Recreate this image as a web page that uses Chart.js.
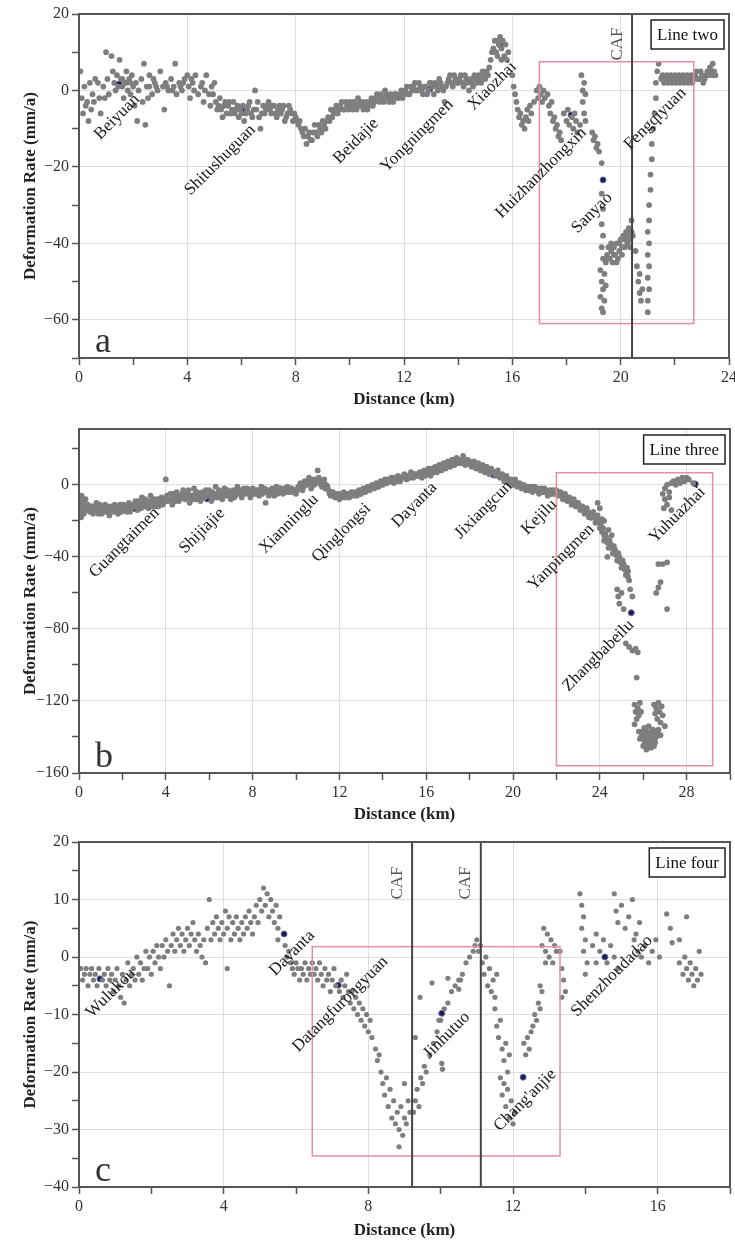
<!DOCTYPE html>
<html><head><meta charset="utf-8">
<script src="https://cdn.jsdelivr.net/npm/chart.js@4"></script>
<style>
html,body{margin:0;padding:0;background:#fff;}
.p{position:absolute;left:0;width:735px;}
canvas{display:block;}
</style></head><body>
<div class="p" style="top:0"><canvas id="ca" width="735" height="412"></canvas></div>
<div class="p" style="top:412px"><canvas id="cb" width="735" height="415"></canvas></div>
<div class="p" style="top:827px"><canvas id="cc" width="735" height="416"></canvas></div>
<script>
// ---------------- DATA ----------------
// Panel a: Line two  [distance km, deformation rate mm/a]
const aPoints = [
[0.05,5],[0.1,-2],[0.15,-6],[0.2,1],[0.25,-4],[0.3,-3],[0.35,-8],[0.4,2],[0.45,-5],[0.5,-1],[0.55,-3],[0.6,3],[0.7,2],[0.75,-2],[0.8,-6],[0.9,1],[0.95,-2],
[1.0,10],[1.05,3],[1.1,-1],[1.2,9],[1.25,5],[1.3,2],[1.35,0],[1.4,4],[1.5,8],[1.55,3],[1.6,1],[1.65,-2],[1.7,2],[1.75,5],[1.8,0],[1.85,3],[1.9,-1],[1.95,4],[2.0,1],[2.05,-4],[2.1,2],[2.15,-8],[2.2,0],[2.3,3],[2.35,-3],[2.4,7],[2.45,-9],[2.5,1],[2.55,-2],
[2.6,4],[2.7,-1],[2.8,2],[2.9,0],[3.0,5],[3.1,1],[3.15,-5],[3.2,2],[3.3,0],[3.4,3],[3.5,1],[3.55,7],[3.6,-1],[3.7,2],[3.8,0],[3.9,3],[4.0,4],[4.05,1],[4.1,-2],[4.2,2],[4.3,4],[4.4,-1],[4.5,1],[4.6,-3],[4.7,4],[4.8,-1],[4.85,-4],[4.9,1],[5.0,2],[5.05,-3],[5.1,-5],[5.2,-2],[5.3,-7],[5.4,-3],[5.5,-4],[5.6,-6],[5.7,-3],[5.8,-5],
[5.9,-7],[6.0,-6],[6.05,-4],[6.1,-8],[6.2,-5],[6.3,-3],[6.4,-7],[6.5,0],[6.55,-5],[6.6,-3],[6.7,-10],[6.75,-6],[6.8,-4],[6.9,-5],[7.0,-3],[7.1,-6],[7.2,-4],[7.3,-7],[7.4,-4],[7.5,-5],[7.6,-8],[7.7,-6],[7.8,-5],[7.9,-8],
[8.0,-7],[8.1,-9],[8.2,-10],[8.3,-12],[8.4,-14],[8.5,-11],[8.6,-13],[8.7,-9],[8.8,-12],[8.9,-10],[9.0,-8],[9.1,-10],[9.2,-7],[9.3,-5],[9.4,-6],[9.5,-4],[9.6,-5],[9.7,-3],[9.8,-5],[9.9,-4],
[10.0,-3],[10.1,-5],[10.2,-4],[10.3,-2],[10.4,-4],[10.5,-5],[10.6,-3],[10.7,-4],[10.8,-2],[10.9,-3],[11.0,-1],[11.1,-3],[11.2,-2],[11.3,0],[11.4,-2],[11.5,-1],[11.6,-3],[11.7,-1],[11.8,-2],[11.9,0],
[12.0,-1],[12.1,1],[12.2,-1],[12.3,0],[12.4,2],[12.5,0],[12.6,1],[12.7,-1],[12.8,1],[12.9,0],[13.0,2],[13.1,-1],[13.2,1],[13.3,3],[13.4,1],[13.5,-3],[13.6,2],[13.7,4],[13.8,1],[13.9,3],[14.0,2],[14.1,4],[14.2,1],[14.3,3],[14.4,0],[14.5,2],[14.6,4],[14.7,2],[14.8,3],[14.9,5],[15.0,3],[15.1,4],
[15.2,8],[15.3,11],[15.35,13],[15.4,10],[15.5,12],[15.55,14],[15.6,11],[15.7,9],[15.75,12],[15.8,8],
[16.0,4],[16.05,1],[16.1,-1],[16.15,-3],[16.2,-5],[16.25,-7],[16.3,-6],[16.35,-9],[16.4,-8],[16.45,-10],[16.5,-7],[16.55,-5],[16.6,-8],[16.65,-4],[16.7,-6],[16.8,-3],
[16.9,0],[16.95,-2],[17.0,1],[17.05,-1],[17.1,-3],[17.15,0],[17.2,-2],[17.3,-1],[17.35,-4],[17.4,-6],[17.45,-3],[17.5,-8],[17.55,-7],[17.6,-10],[17.65,-9],[17.7,-12],[17.75,-11],[17.8,-13],
[17.9,-6],[18.0,-8],[18.05,-5],[18.1,-9],[18.2,-7],[18.25,-10],[18.3,-6],[18.35,-8],[18.4,-11],[18.5,-9],
[18.55,4],[18.6,0],[18.6,-3],[18.65,2],[18.65,-6],[18.7,-1],[18.7,-8],
[18.95,-11],[19.0,-13],[19.05,-12],[19.1,-15],[19.15,-14],[19.2,-16],
[19.3,-19],[19.3,-27],[19.35,-31],[19.3,-35],[19.35,-38],[19.3,-41],[19.35,-44],[19.25,-47],[19.4,-48],[19.3,-50],[19.35,-52],[19.25,-54],[19.4,-55],[19.3,-57],[19.35,-58],[19.45,-51],[19.45,-45],
[19.5,-43],[19.55,-41],[19.6,-44],[19.65,-42],[19.7,-45],[19.75,-41],[19.8,-43],[19.85,-40],[19.9,-44],[19.95,-42],[20.0,-39],[20.05,-43],[20.1,-38],[20.15,-41],[20.2,-37],[20.25,-40],[20.3,-36],[20.35,-39],[20.4,-34],[20.45,-38],
[20.55,-42],[20.6,-46],[20.65,-50],[20.7,-53],[20.75,-55],[20.7,-48],[20.8,-52],
[21.0,-58],[21.0,-55],[21.05,-52],[21.0,-49],[21.05,-46],[21.0,-43],[21.05,-40],[21.0,-37],[21.05,-34],[21.05,-30],[21.1,-26],[21.1,-22],[21.15,-18],[21.15,-14],[21.2,-10],
[21.25,-6],[21.3,-2],[21.3,2],[21.35,5],[21.4,7],
[21.5,3],[21.6,2],[21.7,4],[21.8,3],[21.9,2],[22.0,4],[22.1,3],[22.2,2],[22.3,4],[22.4,3],[22.5,2],[22.6,4],[22.7,3],[22.8,5],[22.9,3],[23.0,4],[23.1,3],[23.2,5],[23.3,6],[23.4,7],[23.45,5],[23.5,4]
];
// more points inside the dense band of Line two
const aBandPoints = [
[1.45,1],[1.6,3],[1.75,2],[1.9,2],[2.6,1],[2.75,3],[2.85,1],[3.25,1],[3.45,0],[3.75,1],[3.85,2],[4.15,3],[4.25,0],[4.55,2],[4.65,0],[4.95,-1],
[5.15,-4],[5.25,-5],[5.35,-4],[5.45,-6],[5.55,-3],[5.65,-5],[5.75,-6],[5.85,-4],[5.95,-5],[6.15,-6],[6.25,-4],[6.35,-6],[6.45,-5],[6.65,-7],[6.85,-6],[6.95,-4],[7.05,-5],[7.15,-4],[7.25,-6],[7.35,-5],[7.45,-6],[7.55,-4],[7.65,-7],[7.75,-4],[7.85,-6],[7.95,-6],
[8.05,-8],[8.15,-8],[8.25,-11],[8.35,-10],[8.45,-12],[8.55,-13],[8.65,-11],[8.75,-11],[8.85,-9],[8.95,-11],[9.05,-9],[9.15,-8],[9.25,-8],[9.35,-7],[9.45,-5],[9.55,-6],[9.65,-4],[9.75,-5],[9.85,-3],[9.95,-5],
[10.05,-4],[10.15,-3],[10.25,-5],[10.35,-3],[10.45,-3],[10.55,-4],[10.65,-5],[10.75,-3],[10.85,-4],[10.95,-2],[11.05,-2],[11.15,-1],[11.25,-3],[11.35,-1],[11.45,-3],[11.55,-2],[11.65,-1],[11.75,-2],[11.85,-1],[11.95,-2],
[12.05,0],[12.15,-1],[12.25,1],[12.35,1],[12.45,0],[12.55,2],[12.65,0],[12.75,1],[12.85,-1],[12.95,2],[13.05,1],[13.15,2],[13.25,0],[13.35,2],[13.45,0],[13.55,1],[13.65,3],[13.75,2],[13.85,4],[13.95,2],[14.05,3],[14.15,2],[14.25,4],[14.35,2],[14.45,3],[14.55,1],[14.65,3],[14.75,4],[14.85,2],[14.95,4],[15.05,5],[15.15,6],
[15.25,10],[15.45,13],[15.65,13],[15.45,9],[15.6,8],[15.85,10],
[19.55,-44],[19.65,-40],[19.75,-43],[19.85,-45],[19.95,-40],[20.05,-41],[20.15,-39],[20.25,-38],[20.35,-41],[20.4,-37],
[21.55,4],[21.65,3],[21.75,2],[21.85,4],[21.95,3],[22.05,2],[22.15,4],[22.25,3],[22.35,2],[22.45,4],[22.55,3],[22.65,2],[22.75,4],[22.85,3],[22.95,5],[23.05,2],[23.15,4],[23.25,4],[23.35,5],[23.4,4]
];
const aStations = ['Beiyuan','Shitushuguan','Beidajie','Yongningmen','Xiaozhai','Huizhanzhongxin','Sanyao','Fengqiyuan'];
const aStationX = [1.48,6.06,10.56,12.96,15.55,18.17,19.35,21.53];
const aStationY = [1.7,-5.1,-4.6,0.4,11.9,-6.4,-23.4,3.3];
const aXTicks = [0,2,4,6,8,10,12,14,16,18,20,22,24];
const aXLabels = [0,4,8,12,16,20,24];
const aYTicks = [-70,-60,-50,-40,-30,-20,-10,0,10,20];
const aYLabels = [-60,-40,-20,0,20];

// Panel b: Line three
const bPoints = [
[0.02,-8],[0.05,-15],[0.08,-11],[0.1,-18],[0.12,-6],[0.15,-13],[0.2,-9],[0.22,-16],[0.25,-12],[0.3,-8],[0.35,-14],
[0.4,-11],[0.5,-15],[0.6,-12],[0.7,-14],[0.8,-10],[0.9,-16],[1.0,-13],[1.1,-15],[1.2,-11],[1.3,-14],[1.4,-17],[1.5,-12],[1.6,-15],[1.7,-13],[1.8,-16],[1.9,-11],[2.0,-14],[2.1,-12],[2.2,-15],[2.3,-10],[2.4,-13],
[2.6,-9],[2.7,-14],[2.8,-11],[2.9,-7],[3.0,-12],[3.1,-9],[3.2,-13],[3.3,-6],[3.4,-10],[3.5,-12],[3.6,-8],[3.7,-11],[3.8,-7],[3.9,-10],[4.0,3],[4.05,-6],[4.1,-9],[4.2,-5],
[4.3,-11],[4.4,-7],[4.5,-4],[4.6,-9],[4.7,-6],[4.8,-3],[4.9,-8],[5.0,-5],[5.1,-10],[5.2,-6],[5.3,-2],[5.4,-8],[5.5,-5],[5.6,-9],[5.7,-4],[5.8,-7],[6.0,-3],[6.1,-9],[6.2,-5],[6.3,-1],[6.4,-7],[6.5,-4],[6.6,-8],[6.7,-2],[6.8,-6],[6.9,-4],[7.0,-8],[7.1,-3],[7.2,-6],[7.3,-1],[7.4,-5],[7.5,-7],[7.6,-2],[7.7,-5],[7.8,-4],[7.9,-7],[8.0,-2],[8.1,-5],[8.2,-3],[8.3,-6],[8.4,-1],[8.5,-4],[8.6,-10],[8.7,-3],[8.8,-5],[8.9,-2],[9.0,-6],[9.1,-1],[9.2,-4],[9.3,-2],[9.4,-5],[9.5,-3],[9.6,-1],[9.7,-4],[9.8,-2],[10.0,-5],
[10.1,-1],[10.2,1],[10.3,-3],[10.4,2],[10.5,0],[10.6,4],[10.7,-2],[10.8,3],[10.9,1],[11.0,8],[11.1,2],[11.2,-1],[11.3,3],[11.4,0],
[11.5,-3],[11.6,-6],[11.7,-4],[11.8,-7],[11.9,-5],[12.0,-8],[12.1,-6],[12.2,-4],[12.3,-7],[12.4,-5],[12.5,-6],
[12.7,-4],[12.8,-6],[12.9,-3],[13.0,-5],[13.1,-2],[13.2,-4],[13.3,-1],[13.4,-3],[13.5,0],[13.6,-2],[13.7,1],[13.8,-1],[13.9,2],[14.0,0],[14.1,3],[14.2,1],[14.3,2],[14.4,4],[14.5,1],[14.6,3],[14.7,5],[14.8,2],[14.9,4],[15.0,6],[15.1,3],[15.2,5],[15.3,7],[15.4,4],[15.5,6],
[15.7,7],[15.8,4],[15.9,8],[16.0,6],[16.1,9],[16.2,5],[16.3,8],[16.4,10],[16.5,7],[16.6,11],[16.7,8],[16.8,12],[16.9,9],[17.0,13],[17.1,10],[17.2,14],[17.3,11],[17.4,15],[17.5,12],[17.6,14],[17.7,16],[17.8,11],[17.9,14],[18.0,13],[18.1,10],[18.2,13],[18.3,9],[18.4,12],[18.5,8],[18.6,11],[18.7,7],[18.8,10],[18.9,6],[19.0,9],
[19.2,5],[19.3,8],[19.4,4],[19.5,6],[19.6,2],[19.7,5],[19.8,1],[19.9,3],[20.0,0],[20.1,3],[20.2,-1],[20.3,1],[20.4,-2],[20.5,0],[20.6,-3],[20.7,-1],[20.8,-2],[20.9,-4],[21.0,-1],[21.1,-3],[21.2,-5],[21.3,-2],[21.4,-4],[21.5,-3],[21.6,-6],[21.7,-3],[21.8,-5],
[22.0,-3],[22.1,-6],[22.2,-4],[22.3,-8],[22.4,-5],[22.5,-9],[22.6,-7],[22.7,-11],[22.8,-8],[22.9,-12],[23.0,-10],[23.1,-14],[23.2,-12],[23.3,-16],[23.4,-13],[23.5,-18],[23.7,-15],[23.8,-21],[23.9,-17],[24.0,-24],
[23.9,-10],[24.0,-13],[24.1,-19],[24.2,-28],
[24.1,-26],[24.2,-31],[24.3,-29],[24.4,-35],[24.5,-33],[24.6,-38],[24.7,-36],[24.8,-42],[24.9,-40],[25.0,-46],[25.1,-44],[25.2,-50],[25.3,-48],[25.35,-53],[24.35,-40],[24.55,-28],
[24.8,-58],[24.85,-62],[24.9,-66],[25.0,-60],[25.1,-69],[25.4,-58],[25.5,-62],
[25.2,-88],[25.35,-90],[25.5,-92],[25.65,-91],[25.75,-93],
[25.7,-107],
[25.6,-122],[25.65,-126],[25.7,-130],[25.75,-124],[25.8,-128],[25.6,-133],[25.85,-121],[25.9,-126],
[26.5,-122],[26.55,-127],[26.6,-124],[26.65,-130],[26.7,-121],[26.75,-126],[26.8,-132],[26.85,-123],[26.9,-128],[27.0,-134],
[25.8,-137],[25.9,-140],[26.0,-138],[26.05,-142],[26.1,-136],[26.15,-140],[26.2,-144],[26.25,-138],[26.3,-141],[26.35,-137],[26.4,-143],[26.45,-139],[26.5,-141],[26.55,-137],[26.6,-140],[26.7,-136],[26.8,-139],[26.0,-145],[26.15,-147],[26.35,-146],[26.05,-135],[26.25,-134],
[26.9,-5],[27.0,-2],[27.1,0],[27.2,-4],[27.3,1],[27.4,2],[27.5,0],[27.6,3],[27.7,1],[27.8,4],[27.9,2],[28.0,4],[28.1,3],[27.0,-8],[27.1,-11],[27.2,-7],[26.95,-13],[27.3,-14],[28.3,1],
[26.7,-44],[26.9,-44],[27.1,-43],
[26.6,-60],[26.7,-57],[26.8,-54],
[27.1,-69]
];
// more points inside the dense band of Line three
const bBandPoints = [
[0.45,-13],[0.55,-12],[0.65,-16],[0.75,-12],[0.85,-13],[0.95,-11],[1.05,-16],[1.15,-13],[1.25,-15],[1.35,-12],[1.45,-14],[1.55,-13],[1.65,-11],[1.75,-14],[1.85,-13],[1.95,-15],[2.05,-11],[2.15,-14],[2.25,-12],[2.35,-15],[2.45,-11],
[2.55,-12],[2.65,-11],[2.75,-9],[2.85,-13],[2.95,-10],[3.05,-8],[3.15,-11],[3.25,-9],[3.35,-12],[3.45,-8],[3.55,-10],[3.65,-12],[3.75,-9],[3.85,-11],[3.95,-8],
[4.25,-8],[4.35,-5],[4.45,-9],[4.55,-6],[4.65,-8],[4.75,-5],[4.85,-6],[4.95,-7],[5.05,-3],[5.15,-7],[5.25,-8],[5.35,-5],[5.45,-4],[5.55,-6],[5.65,-7],[5.75,-6],[5.85,-3],[5.95,-6],[6.05,-6],[6.15,-4],[6.25,-7],[6.35,-5],[6.45,-3],[6.55,-6],[6.65,-5],[6.75,-5],[6.85,-3],[6.95,-6],[7.05,-5],[7.15,-7],[7.25,-3],[7.35,-4],[7.45,-3],[7.55,-5],[7.65,-4],[7.75,-2],[7.85,-5],[7.95,-4],[8.05,-5],[8.15,-3],[8.25,-5],[8.35,-3],[8.45,-5],[8.55,-2],[8.65,-4],[8.75,-6],[8.85,-4],[8.95,-3],[9.05,-3],[9.15,-5],[9.25,-2],[9.35,-4],[9.45,-2],[9.55,-4],[9.65,-3],[9.75,-2],[9.85,-4],[9.95,-3],
[10.05,-3],[10.15,-2],[10.25,0],[10.35,-1],[10.45,1],[10.55,2],[10.65,1],[10.75,2],[10.85,0],[10.95,3],[11.05,4],[11.15,0],[11.25,1],[11.35,-2],[11.45,-1],
[11.55,-5],[11.65,-4],[11.75,-6],[11.85,-5],[11.95,-6],[12.05,-5],[12.15,-7],[12.25,-6],[12.35,-5],[12.45,-7],[12.55,-4],
[12.65,-6],[12.75,-5],[12.85,-4],[12.95,-5],[13.05,-3],[13.15,-4],[13.25,-3],[13.35,-2],[13.45,-1],[13.55,-1],[13.65,0],[13.75,-1],[13.85,0],[13.95,1],[14.05,2],[14.15,1],[14.25,3],[14.35,2],[14.45,2],[14.55,4],[14.65,2],[14.75,3],[14.85,4],[14.95,5],[15.05,4],[15.15,5],[15.25,4],[15.35,5],[15.45,6],[15.55,5],[15.65,5],
[15.75,6],[15.85,6],[15.95,5],[16.05,8],[16.15,7],[16.25,9],[16.35,7],[16.45,8],[16.55,9],[16.65,9],[16.75,11],[16.85,10],[16.95,11],[17.05,11],[17.15,12],[17.25,12],[17.35,13],[17.45,13],[17.55,13],[17.65,12],[17.75,13],[17.85,13],[17.95,12],[18.05,11],[18.15,12],[18.25,11],[18.35,10],[18.45,10],[18.55,10],[18.65,9],[18.75,9],[18.85,8],[18.95,8],[19.05,7],[19.15,7],
[19.25,6],[19.35,5],[19.45,5],[19.55,4],[19.65,3],[19.75,3],[19.85,2],[19.95,1],[20.05,2],[20.15,1],[20.25,0],[20.35,0],[20.45,-1],[20.55,-1],[20.65,-2],[20.75,-3],[20.85,-1],[20.95,-2],[21.05,-3],[21.15,-2],[21.25,-3],[21.35,-4],[21.45,-2],[21.55,-4],[21.65,-4],[21.75,-5],[21.85,-3],[21.95,-5],
[22.05,-5],[22.15,-4],[22.25,-6],[22.35,-6],[22.45,-7],[22.55,-7],[22.65,-9],[22.75,-9],[22.85,-10],[22.95,-10],[23.05,-12],[23.15,-12],[23.25,-13],[23.35,-14],[23.45,-15],[23.55,-16],[23.65,-18],[23.75,-18],[23.85,-19],[23.95,-21],
[24.05,-22],[24.15,-24],[24.25,-27],[24.35,-32],[24.45,-31],[24.55,-35],[24.65,-34],[24.75,-39],[24.85,-38],[24.95,-43],[25.05,-42],[25.15,-47],[25.25,-46],[25.3,-51],[24.2,-20],[24.4,-25],
[25.85,-141],[25.95,-137],[26.05,-139],[26.15,-142],[26.25,-140],[26.35,-139],[26.45,-136],[26.55,-143],[26.65,-138],[26.1,-144],[26.3,-144],[26.5,-145]
];
const bStations = ['Guangtaimen','Shijiajie','Xianninglu','Qinglongsi','Dayanta','Jixiangcun','Kejilu','Yanpingmen','Zhangbabeilu','Yuhuazhai'];
const bStationX = [2.6,5.9,9.9,12.6,15.6,19.1,21.9,23.6,25.45,28.4];
const bStationY = [-13.3,-7.8,-3.9,-5,5.5,5.5,-4.6,-18,-71,0.5];
const bXTicks = [0,2,4,6,8,10,12,14,16,18,20,22,24,26,28,30];
const bXLabels = [0,4,8,12,16,20,24,28];
const bYTicks = [-160,-140,-120,-100,-80,-60,-40,-20,0,20];
const bYLabels = [-160,-120,-80,-40,0];

// Panel c: Line four
const cPoints = [
[0.05,-2],[0.1,-4],[0.15,-3],[0.2,-2],[0.25,-5],[0.3,-3],[0.35,-2],[0.4,-4],[0.45,-3],[0.5,-5],[0.55,-2],[0.65,-4],[0.7,-3],[0.75,-5],[0.8,-2],[0.85,-4],[0.9,-3],[0.95,-6],
[1.0,-4],[1.05,-2],[1.1,-5],[1.15,-7],[1.2,-3],[1.25,-8],[1.3,-4],[1.35,-1],[1.4,-5],[1.45,-3],[1.5,-2],[1.55,-4],[1.6,0],[1.65,-3],[1.7,-1],[1.75,-4],[1.8,-2],[1.85,1],[1.9,-2],[1.95,0],[2.0,-3],[2.05,1],[2.1,-1],[2.15,2],[2.2,0],[2.25,-2],[2.3,2],[2.35,0],[2.4,3],[2.45,1],[2.5,-5],[2.55,2],[2.6,4],[2.65,1],[2.7,3],[2.75,5],[2.8,2],[2.85,4],[2.9,1],[2.95,3],
[3.0,5],[3.05,2],[3.1,4],[3.15,6],[3.2,3],[3.25,1],[3.3,4],[3.35,2],[3.4,0],[3.45,3],[3.5,-1],[3.55,5],[3.6,10],[3.65,3],[3.7,6],[3.75,4],[3.8,7],[3.85,5],[3.9,3],[3.95,6],
[4.0,4],[4.05,8],[4.1,-2],[4.1,5],[4.15,7],[4.2,3],[4.25,6],[4.3,4],[4.35,7],[4.4,5],[4.45,3],[4.5,6],[4.55,4],[4.6,7],[4.65,5],[4.7,8],[4.75,6],[4.8,4],[4.85,7],[4.9,9],[4.95,6],
[5.0,10],[5.05,8],[5.1,12],[5.15,9],[5.2,11],[5.25,7],[5.3,10],[5.35,8],[5.4,6],[5.45,9],[5.5,5],[5.55,7],[5.5,3],
[5.7,2],[5.75,0],[5.8,1],[5.85,-1],[5.9,-2],[5.95,-3],[6.0,-1],[6.05,-2],[6.1,-4],[6.15,-2],[6.2,-3],[6.25,-1],[6.3,-4],[6.35,-2],[6.4,-3],[6.45,-1],[6.5,-3],
[6.55,-2],[6.6,-4],[6.65,-1],[6.7,-3],[6.75,-5],[6.8,-2],[6.85,-4],[6.9,-3],[6.95,-6],[7.0,-4],[7.05,-2],[7.1,-5],[7.2,-6],[7.25,-4],[7.3,-7],[7.35,-5],[7.4,-3],[7.45,-6],[7.5,-8],
[7.55,-6],[7.6,-9],[7.65,-7],[7.7,-10],[7.75,-8],[7.8,-11],[7.85,-9],[7.9,-12],[7.95,-10],[8.0,-13],[8.05,-11],[8.1,-14],
[8.2,-16],[8.25,-18],[8.3,-17],[8.35,-20],
[8.4,-22],[8.45,-24],[8.5,-21],[8.55,-26],[8.6,-23],[8.65,-28],[8.7,-25],[8.75,-29],[8.8,-27],[8.85,-30],[8.9,-26],[8.95,-31],[9.0,-28],[9.05,-29],[9.1,-25],[9.15,-27],[8.85,-33],[9.0,-22],
[9.25,-27],[9.3,-25],[9.35,-23],[9.4,-26],[9.45,-21],[9.5,-22],[9.55,-19],[9.6,-20],[9.7,-17],[9.8,-15],[9.9,-13],[10.0,-11],[10.1,-9],[10.2,-8],[10.3,-6],[10.4,-5],[10.5,-4],[10.6,-3],[10.7,-1],[10.8,0],[10.9,1],[10.95,2],[11.0,3],[11.05,1],[11.1,2],
[9.43,-7],[9.76,-4.5],[10.2,-3.7],[10.5,-5.6],[10.03,-18.5],[10.05,-19.5],[9.95,-11],[10.55,-4],[9.3,-14],
[11.15,-1],[11.2,-3],[11.25,0],[11.3,-5],[11.35,-2],[11.4,-6],[11.45,-4],[11.5,-7],[11.55,-3],
[11.5,-9],[11.55,-12],[11.6,-14],[11.65,-11],[11.7,-16],[11.75,-18],[11.8,-15],[11.85,-20],[11.9,-17],
[11.65,-21],[11.7,-24],[11.75,-22],[11.8,-26],[11.85,-23],[11.9,-28],[11.95,-25],[12.0,-29],[12.05,-27],
[12.3,-15],[12.35,-17],[12.4,-14],[12.45,-16],[12.5,-13],
[12.55,-12],[12.6,-10],[12.65,-11],[12.7,-8],[12.75,-9],[12.8,-6],[12.75,-5],
[12.8,2],[12.85,5],[12.9,1],[12.95,4],[13.0,0],[13.05,3],[13.1,-1],[13.15,2],[13.2,1],[12.9,-1],
[13.3,1],[13.35,-2],[13.4,-4],[13.45,-6],[13.35,-7],
[13.85,11],[13.9,9],[13.95,7],[13.9,5],[14.0,3],[13.95,1],[14.05,-1],[14.0,-3],
[14.2,2],[14.3,4],[14.4,1],[14.5,3],[14.6,-1],[14.7,2],[14.8,0],[14.9,-2],[14.3,-1],
[14.8,11],[14.85,8],[14.9,6],[15.0,9],[15.1,5],[15.2,7],[15.3,10],[15.4,4],[15.5,6],
[15.35,3],[15.45,1],[15.55,0],[15.65,2],[15.75,-1],[15.85,1],[15.95,3],[16.05,0],
[16.25,7.5],[16.35,5],[16.4,2.5],[16.6,3],[16.8,7],
[16.6,-1],[16.7,-3],[16.75,0],[16.8,-2],[16.85,-4],[16.9,-1],[16.95,-3],[17.0,-5],[17.05,-2],[17.1,-4],[17.15,1],[17.2,-3]
];
const cStations = ['Wulukou','Dayanta','Datangfurongyuan','Jinhutuo',"Chang'anjie",'Shenzhoudadao'];
const cStationX = [0.58,5.67,7.17,10.03,12.28,14.54];
const cStationY = [-3.8,4.0,-4.9,-9.8,-20.9,0];
const cXTicks = [0,2,4,6,8,10,12,14,16,18];
const cXLabels = [0,4,8,12,16];
const cYTicks = [-40,-35,-30,-25,-20,-15,-10,-5,0,5,10,15,20];
const cYLabels = [-40,-30,-20,-10,0,10,20];

// ---------------- ANNOTATION LAYOUT (not data) ----------------
const annA = {letter:'a', tag:'Line two', box:[17,22.7,-61,7.5], caf:[20.42], cafDy:30,
  labelOff:[[-2,33],[-23,50],[-9,33],[-13,47],[-8,41],[-30,58],[-11,33],[-7,41]]};
const annB = {letter:'b', tag:'Line three', box:[22,29.2,-156,6.7], caf:[], cafDy:0,
  labelOff:[[-11,34],[-5,32],[-5,32],[-11,39],[-3,30],[-10,35],[-15,24],[-30,40],[-33,43],[-18,31]]};
const annC = {letter:'c', tag:'Line four', box:[6.45,13.3,-34.6,1.8], caf:[9.21,11.11], cafDy:41,
  labelOff:[[11,14],[8,19],[2,19],[5,22],[2,23],[7,19]]};

const SERIF = '"Liberation Serif","Times New Roman",serif';
const fmt = v => (v < 0 ? '\u2212' + Math.abs(v) : String(v));

const annotPlugin = {
  id: 'annot',
  afterDatasetsDraw(chart) {
    const ann = chart.options.plugins.annot;
    const {ctx, chartArea: ca, scales: {x, y}} = chart;
    ctx.save();
    const [x0, x1, y0, y1] = ann.box;
    ctx.strokeStyle = '#e58fa0'; ctx.lineWidth = 1.5;
    ctx.strokeRect(x.getPixelForValue(x0), y.getPixelForValue(y1),
      x.getPixelForValue(x1) - x.getPixelForValue(x0), y.getPixelForValue(y0) - y.getPixelForValue(y1));
    ann.caf.forEach(v => {
      const px = x.getPixelForValue(v);
      ctx.strokeStyle = '#444'; ctx.lineWidth = 2;
      ctx.beginPath(); ctx.moveTo(px, ca.top); ctx.lineTo(px, ca.bottom); ctx.stroke();
      ctx.save();
      ctx.translate(px - 15, ca.top + ann.cafDy);
      ctx.rotate(-Math.PI / 2);
      ctx.font = '17px ' + SERIF; ctx.fillStyle = '#555';
      ctx.textAlign = 'center'; ctx.textBaseline = 'middle';
      ctx.fillText('CAF', 0, 0);
      ctx.restore();
    });
    const st = chart.data.datasets[1];
    st.data.forEach((p, i) => {
      const px = x.getPixelForValue(p.x) + ann.labelOff[i][0];
      const py = y.getPixelForValue(p.y) + ann.labelOff[i][1];
      ctx.save();
      ctx.translate(px, py); ctx.rotate(-Math.PI / 4);
      ctx.font = '17px ' + SERIF; ctx.fillStyle = '#1a1a1a';
      ctx.textAlign = 'center'; ctx.textBaseline = 'middle';
      ctx.fillText(st.names[i], 0, 0);
      ctx.restore();
    });
    ctx.strokeStyle = '#555'; ctx.lineWidth = 2;
    ctx.strokeRect(ca.left, ca.top, ca.right - ca.left, ca.bottom - ca.top);
    ctx.font = '17px ' + SERIF;
    const w = ctx.measureText(ann.tag).width + 12;
    const bx = ca.right - 5 - w, by = ca.top + 6, bh = 29;
    ctx.fillStyle = '#fff'; ctx.fillRect(bx, by, w, bh);
    ctx.strokeStyle = '#222'; ctx.lineWidth = 1.5; ctx.strokeRect(bx, by, w, bh);
    ctx.fillStyle = '#111'; ctx.textAlign = 'center'; ctx.textBaseline = 'middle';
    ctx.fillText(ann.tag, bx + w / 2, by + bh / 2 + 1);
    ctx.font = '36px ' + SERIF; ctx.fillStyle = '#333';
    ctx.textAlign = 'left'; ctx.textBaseline = 'alphabetic';
    ctx.fillText(ann.letter, ca.left + 16, ca.bottom - 6);
    ctx.restore();
  }
};

function makePanel(id, pts, names, sx, sy, xT, xL, yT, yL, xr, yr, pad, xH, ann, radius) {
  const tickOpts = (labels) => ({
    autoSkip: false, maxRotation: 0, minRotation: 0, padding: 3,
    color: '#333', font: {family: SERIF, size: 16},
    callback: v => labels.includes(v) ? fmt(v) : ''
  });
  const gridOpts = (labels) => ({
    color: c => (c.tick && labels.includes(c.tick.value)) ? '#dedede' : 'rgba(0,0,0,0)',
    lineWidth: 1, tickColor: '#555', tickLength: 7, tickWidth: 1.5
  });
  const zeroPad = s => { s.paddingLeft = 0; s.paddingRight = 0; s.paddingTop = 0; s.paddingBottom = 0; };
  new Chart(document.getElementById(id), {
    type: 'scatter',
    data: {
      datasets: [
        {data: pts.map(p => ({x: p[0], y: p[1]})), backgroundColor: '#7e7e7e', borderWidth: 0, pointRadius: radius},
        {data: sx.map((v, i) => ({x: v, y: sy[i]})), names: names, backgroundColor: '#1c1c52', borderColor: '#6a6aa0', borderWidth: 1, pointRadius: 3}
      ]
    },
    options: {
      responsive: false, animation: false, events: [],
      layout: {padding: pad},
      plugins: {legend: {display: false}, tooltip: {enabled: false}, annot: ann},
      scales: {
        x: {
          type: 'linear', min: xr[0], max: xr[1],
          afterBuildTicks: s => { s.ticks = xT.map(v => ({value: v})); },
          afterFit: s => { s.height = xH; zeroPad(s); },
          ticks: tickOpts(xL), grid: gridOpts(xL),
          border: {display: true, color: '#555', width: 2},
          title: {display: true, text: 'Distance (km)', color: '#222',
            font: {family: SERIF, size: 17, weight: 'bold'}, padding: {top: 0, bottom: 2}}
        },
        y: {
          type: 'linear', min: yr[0], max: yr[1],
          afterBuildTicks: s => { s.ticks = yT.map(v => ({value: v})); },
          afterFit: s => { s.width = 63; zeroPad(s); },
          ticks: tickOpts(yL), grid: gridOpts(yL),
          border: {display: true, color: '#555', width: 2},
          title: {display: true, text: 'Deformation Rate (mm/a)', color: '#222',
            font: {family: SERIF, size: 17, weight: 'bold'}, padding: {top: 4, bottom: 4}}
        }
      }
    },
    plugins: [annotPlugin]
  });
}

makePanel('ca', aPoints.concat(aBandPoints), aStations, aStationX, aStationY, aXTicks, aXLabels, aYTicks, aYLabels,
  [0, 24], [-70, 20], {left: 16, right: 6, top: 14, bottom: 0}, 54, annA, 2.9);
makePanel('cb', bPoints.concat(bBandPoints), bStations, bStationX, bStationY, bXTicks, bXLabels, bYTicks, bYLabels,
  [0, 30], [-160, 31], {left: 16, right: 4, top: 17, bottom: 0}, 54, annB, 2.9);
makePanel('cc', cPoints, cStations, cStationX, cStationY, cXTicks, cXLabels, cYTicks, cYLabels,
  [0, 18], [-40, 20], {left: 16, right: 5, top: 15, bottom: 0}, 56, annC, 2.6);
</script></body></html>
